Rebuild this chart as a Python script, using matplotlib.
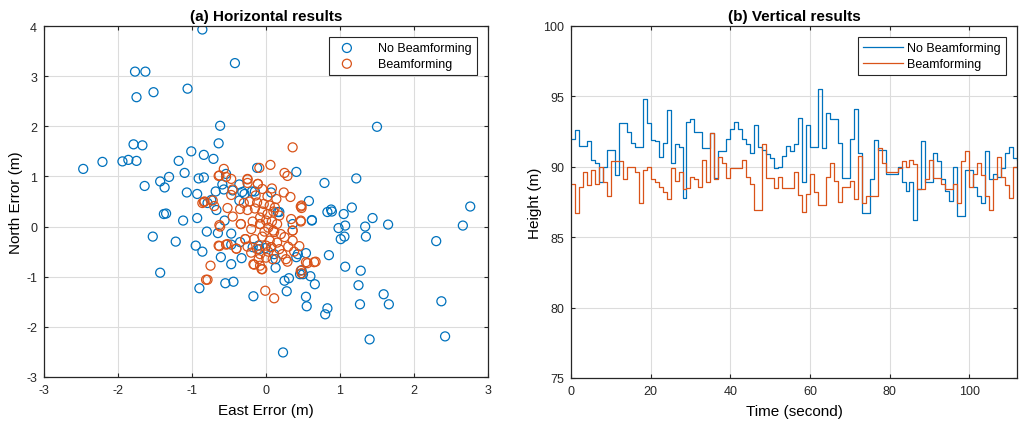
import matplotlib
matplotlib.use("Agg")
import matplotlib.pyplot as plt
import numpy as np

plt.rcParams['font.family'] = ['Liberation Sans', 'DejaVu Sans']
plt.rcParams['axes.unicode_minus'] = False

BLUE = '#0072BD'
ORANGE = '#D95319'

# ---------------- (a) horizontal scatter data ----------------
nobf_east = [-0.86, -0.42, -1.77, -1.63, -1.06, -1.52, -1.75, 1.50, -0.62, -0.64,
             -1.79, -1.67, -1.01, -0.84, -0.71, -1.18, -1.94, -1.86, -1.75, -2.21,
             -2.47, -1.10, 0.41, -0.91, -0.84, -0.54, -1.31, -1.43, 0.79, 1.22,
             -1.64, -1.37, -0.59, -0.36, -1.07, -0.93, -0.68, -0.57, -0.32, -0.19,
             0.07, 0.58, 2.76, 1.16, -0.74, -0.36, 0.88, -0.45, -0.29, -0.15,
             -0.79, -0.67, -0.56, -0.80, -0.86, -0.35, -0.18, -0.09, 0.36, 0.18,
             -1.38, -1.35, -1.12, -0.93, -1.53, -1.22, -0.65, -0.47, -0.95, -0.61,
             -0.47, -0.33, -1.43, -0.90, -0.55, -0.44, -0.17, 0.13, 0.13, 0.25,
             0.31, 0.28, 0.46, 0.48, 0.60, 0.66, 0.54, 0.55, 0.83, 0.80,
             0.23, 1.40, 2.42, 2.37, 1.59, 1.66, 1.27, 1.25, 1.28, 1.07,
             0.85, 0.54, 0.41, 0.98, 1.01, 1.06, 1.07, 1.05, 0.83, 0.89,
             0.62, 0.62, 1.34, 1.44, 1.35, 1.65, 2.30, 2.66, -0.47, -0.10,
             0.16, 0.43, -0.01, 0.11, 0.50, -0.12]
nobf_north = [3.93, 3.26, 3.09, 3.09, 2.75, 2.68, 2.58, 1.99, 2.01, 1.66,
              1.64, 1.62, 1.50, 1.43, 1.35, 1.31, 1.30, 1.33, 1.31, 1.29,
              1.15, 1.07, 1.09, 0.96, 0.98, 1.05, 0.99, 0.90, 0.87, 0.96,
              0.81, 0.78, 0.84, 0.84, 0.68, 0.65, 0.70, 0.74, 0.69, 0.70,
              0.68, 0.51, 0.40, 0.38, 0.53, 0.52, 0.34, 0.72, 0.65, 0.70,
              0.47, 0.33, 0.12, -0.10, -0.50, -0.31, -0.41, -0.45, 0.05, 0.29,
              0.25, 0.26, 0.12, 0.17, -0.20, -0.30, -0.13, -0.14, -0.38, -0.61,
              -0.75, -0.63, -0.92, -1.23, -1.13, -1.10, -1.39, -0.82, -0.65, -1.08,
              -1.03, -1.29, -0.95, -0.87, -0.99, -1.15, -1.40, -1.59, -1.63, -1.75,
              -2.51, -2.25, -2.19, -1.49, -1.35, -1.55, -1.55, -1.17, -0.88, -0.80,
              -0.57, -0.53, -0.61, -0.03, -0.25, -0.20, 0.02, 0.25, 0.29, 0.30,
              0.12, 0.13, 0.00, 0.17, -0.20, 0.04, -0.29, 0.02, -0.36, -0.38,
              0.29, -0.55, -0.43, -0.55, -0.95, 1.17]

bf_east = [0.36, -0.09, 0.06, -0.57, 0.25, 0.29, -0.64, -0.47, -0.25, -0.25,
           -0.11, 0.08, -0.05, -0.45, 0.33, -0.84, -0.47, 0.48, -0.63, -0.54,
           -0.25, -0.11, -0.83, -0.72, -0.52, -0.34, -0.08, -0.63, -0.63, -0.52,
           -0.40, -0.28, -0.16, -0.17, -0.08, -0.79, -0.75, -0.81, -0.01, 0.11,
           0.67, 0.56, 0.48, 0.29, -0.06, -0.16, -0.10, 0.47, 0.36, 0.48,
           -0.64, -0.54, -0.62, -0.70, -0.86, 0.47, 0.47, 0.34, 0.36, 0.25,
           0.36, 0.45, 0.54, 0.65, 0.47, 0.27, 0.09, -0.05, 0.07, 0.11,
           -0.30, -0.22, -0.12, -0.03, 0.05, 0.12, -0.35, -0.25, -0.15, -0.05,
           0.02, 0.10, 0.18, -0.08, 0.00, 0.08, -0.18, 0.15, -0.34, -0.08,
           0.03, 0.10, -0.02, 0.20, -0.28, -0.05, 0.05, 0.15, -0.40, -0.25,
           -0.12, 0.00, 0.07, -0.20, -0.08, 0.03, 0.18, 0.30, 0.00, 0.22,
           0.38, -0.14, 0.14, 0.24, -0.45, -0.20, 0.02]
bf_north = [1.58, 1.17, 1.23, 1.15, 1.07, 1.01, 1.01, 0.95, 0.95, 0.87,
            0.85, 0.76, 0.75, 0.74, 0.59, 0.49, 0.63, 0.42, 1.02, 0.99,
            0.94, 0.85, 0.50, 0.52, 0.37, 0.05, 0.05, 0.03, -0.39, -0.35,
            -0.44, -0.25, -0.25, -0.75, -0.78, -1.06, -0.78, -1.06, -1.28, -1.43,
            -0.70, -0.73, -0.93, -0.70, -0.85, -0.76, -0.65, 0.10, -0.08, 0.37,
            -0.38, -0.36, 0.00, 0.41, 0.47, 0.40, 0.12, 0.15, -0.08, -0.21,
            -0.28, -0.39, -0.71, -0.71, -0.88, -0.65, -0.65, -0.85, -0.41, -0.11,
            0.47, 0.50, 0.48, 0.45, 0.42, 0.38, 0.35, 0.33, 0.36, 0.30,
            0.25, 0.30, 0.22, 0.18, 0.12, 0.10, 0.10, 0.05, 0.05, 0.05,
            -0.02, -0.08, -0.10, -0.15, -0.25, -0.20, -0.28, -0.32, -0.44, -0.40,
            -0.45, -0.38, -0.41, -0.52, -0.55, -0.50, -0.45, -0.40, -0.62, -0.55,
            -0.50, 0.62, 0.55, 0.68, 0.20, -0.05, 0.60]

# ---------------- (b) vertical time series data ----------------
time_s = list(range(0, 113))
height_nobf = [92.0, 92.6, 91.5, 91.5, 91.8, 90.5, 90.3, 88.9, 90.0, 91.2,
               91.2, 89.4, 93.1, 93.1, 92.5, 91.7, 91.4, 91.4, 94.8, 93.1,
               91.9, 91.8, 90.7, 91.7, 94.0, 90.3, 91.6, 91.4, 87.8, 93.2,
               93.4, 92.5, 92.5, 91.3, 91.3, 92.4, 89.2, 91.1, 91.1, 92.0,
               92.7, 93.2, 92.7, 92.0, 91.6, 91.0, 93.0, 91.4, 91.2, 90.9,
               90.6, 89.9, 90.0, 90.8, 91.5, 91.1, 91.6, 93.5, 88.9, 93.0,
               91.4, 91.4, 95.5, 91.3, 93.8, 93.4, 93.4, 91.7, 89.2, 89.2,
               92.0, 94.1, 91.0, 86.7, 86.7, 89.1, 91.9, 91.2, 91.2, 89.5,
               89.5, 89.5, 90.0, 88.9, 88.3, 88.9, 86.2, 88.4, 91.8, 88.9,
               88.9, 91.0, 90.4, 89.1, 88.3, 87.6, 90.0, 86.5, 86.5, 89.8,
               89.8, 88.6, 87.9, 87.4, 91.1, 89.1, 89.5, 89.3, 89.9, 91.0,
               91.4, 90.6, 90.5]
height_bf = [88.8, 86.7, 88.6, 89.6, 88.7, 89.8, 88.8, 90.0, 88.9, 87.9,
             90.4, 90.4, 90.4, 89.1, 90.0, 90.0, 89.6, 87.4, 89.8, 90.0,
             89.1, 88.9, 88.6, 88.2, 87.7, 89.9, 89.0, 89.6, 88.4, 88.5,
             89.3, 89.1, 88.6, 90.5, 88.9, 92.4, 89.1, 90.7, 90.3, 89.2,
             89.9, 89.9, 89.9, 90.5, 89.3, 88.8, 86.9, 86.9, 91.6, 89.2,
             89.2, 88.5, 89.3, 88.5, 88.5, 88.5, 89.6, 88.0, 86.8, 88.1,
             89.5, 88.2, 87.3, 87.3, 89.3, 90.3, 89.0, 87.5, 88.6, 88.6,
             89.0, 87.7, 90.8, 87.4, 87.9, 87.9, 87.9, 91.3, 90.3, 89.6,
             89.6, 89.6, 89.9, 90.4, 90.0, 90.5, 90.2, 88.4, 88.4, 89.1,
             90.5, 89.2, 89.2, 88.8, 88.4, 88.4, 88.8, 87.4, 90.4, 91.1,
             88.6, 89.5, 90.3, 89.4, 87.9, 86.9, 89.1, 90.7, 89.3, 88.7,
             87.8, 90.0, 90.0]

x_ticks_a = [-3, -2, -1, 0, 1, 2, 3]
y_ticks_a = [-3, -2, -1, 0, 1, 2, 3, 4]
x_ticks_b = [0, 20, 40, 60, 80, 100]
y_ticks_b = [75, 80, 85, 90, 95, 100]

fig = plt.figure(figsize=(10.24, 4.31), dpi=100)
W, H = 1024, 431
axA = fig.add_axes([44 / W, 1 - 378 / H, 444 / W, 351 / H])
axB = fig.add_axes([571 / W, 1 - 379 / H, 446 / W, 352 / H])


def style(ax):
    ax.grid(True, color='#DCDCDC', linewidth=0.8)
    ax.set_axisbelow(True)
    for s in ax.spines.values():
        s.set_color('#262626')
        s.set_linewidth(0.9)
    ax.tick_params(direction='in', top=True, right=True, length=3, width=0.8,
                   labelsize=9, colors='#262626', pad=5)


axA.scatter(nobf_east, nobf_north, s=42, facecolors='none', edgecolors=BLUE,
            linewidths=0.9, label='No Beamforming')
axA.scatter(bf_east, bf_north, s=42, facecolors='none', edgecolors=ORANGE,
            linewidths=0.9, label='Beamforming')
axA.set_xlim(-3, 3)
axA.set_ylim(-3, 4)
axA.set_xticks(x_ticks_a)
axA.set_yticks(y_ticks_a)
style(axA)
axA.set_xlabel('East Error (m)', fontsize=11, labelpad=5)
axA.set_ylabel('North Error (m)', fontsize=11, labelpad=2)
axA.set_title('(a) Horizontal results', fontsize=11, fontweight='bold', pad=4)
legA = axA.legend(loc='upper right', fontsize=9, fancybox=False, framealpha=1,
                  edgecolor='#262626', borderaxespad=0.9, handletextpad=1.5,
                  borderpad=0.4, labelspacing=0.3)
legA.get_frame().set_linewidth(0.8)

axB.plot(time_s, height_nobf, drawstyle='steps-post', color=BLUE, linewidth=0.9,
         label='No Beamforming')
axB.plot(time_s, height_bf, drawstyle='steps-post', color=ORANGE, linewidth=0.9,
         label='Beamforming')
axB.set_xlim(0, 112)
axB.set_ylim(75, 100)
axB.set_xticks(x_ticks_b)
axB.set_yticks(y_ticks_b)
style(axB)
axB.set_xlabel('Time (second)', fontsize=11, labelpad=5)
axB.set_ylabel('Height (m)', fontsize=11, labelpad=1)
axB.set_title('(b) Vertical results', fontsize=11, fontweight='bold', pad=4)
legB = axB.legend(loc='upper right', fontsize=9, fancybox=False, framealpha=1,
                  edgecolor='#262626', borderaxespad=0.9, handlelength=3.2,
                  handletextpad=0.3, borderpad=0.4, labelspacing=0.3)
legB.get_frame().set_linewidth(0.8)

fig.savefig('out.png', dpi=100, facecolor='white')
